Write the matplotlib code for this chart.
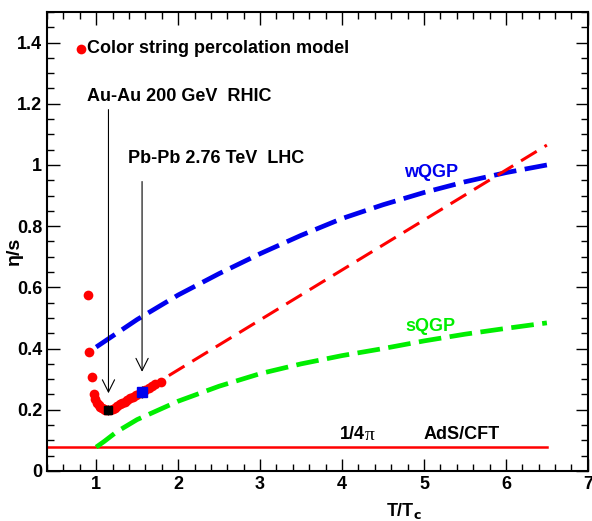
import matplotlib
matplotlib.use('Agg')
import matplotlib.pyplot as plt
from matplotlib.ticker import MultipleLocator

plt.rcParams['font.family'] = ['Liberation Sans', 'DejaVu Sans']
plt.rcParams['font.weight'] = 'bold'
plt.rcParams['axes.labelweight'] = 'bold'

# colour string percolation points (T/Tc, eta/s)
csp_t = [0.90, 0.918, 0.948, 0.976, 0.99, 1.008, 1.03, 1.05, 1.07, 1.09, 1.11, 1.13,
         1.17, 1.20, 1.23, 1.26, 1.29, 1.32, 1.35, 1.38, 1.41, 1.45, 1.49, 1.53,
         1.56, 1.60, 1.64, 1.68, 1.72, 1.79]
csp_eta = [0.574, 0.389, 0.307, 0.253, 0.235, 0.222, 0.214, 0.209, 0.205, 0.202, 0.200, 0.199,
           0.200, 0.203, 0.207, 0.211, 0.218, 0.222, 0.227, 0.232, 0.237, 0.242, 0.248, 0.254,
           0.259, 0.266, 0.272, 0.278, 0.284, 0.290]

# extrapolated colour string line
ext_t = [1.6, 6.5]
ext_eta = [0.265, 1.065]

# weakly coupled QGP
wqgp_t = [1.0, 1.5, 2.0, 2.5, 3.0, 3.5, 4.0, 4.5, 5.0, 5.5, 6.0, 6.5]
wqgp_eta = [0.405, 0.495, 0.575, 0.645, 0.71, 0.77, 0.825, 0.87, 0.91, 0.945, 0.975, 1.0]

# strongly coupled QGP
sqgp_t = [1.0, 1.1, 1.25, 1.5, 2.0, 2.5, 3.0, 3.5, 4.0, 4.5, 5.0, 5.5, 6.0, 6.5]
sqgp_eta = [0.078, 0.097, 0.128, 0.168, 0.228, 0.277, 0.318, 0.35, 0.377, 0.40, 0.425, 0.447,
            0.466, 0.484]

kss_bound = 0.0796  # 1/4pi

rhic_t, rhic_eta, rhic_err = 1.15, 0.199, 0.015
lhc_t, lhc_eta, lhc_err = 1.56, 0.259, 0.02

fig = plt.figure(figsize=(5.92, 5.21), dpi=100)
ax = fig.add_axes([0.0794, 0.096, 0.9136, 0.881])

ax.plot([0.4, 6.5], [kss_bound, kss_bound], color='#ff0000', lw=1.8)
ax.plot(wqgp_t, wqgp_eta, color='#0000ee', lw=3.4, dashes=(4.8, 1.8))
ax.plot(sqgp_t, sqgp_eta, color='#00ee00', lw=3.4, dashes=(4.8, 1.8))
ax.plot(ext_t, ext_eta, color='#ff0000', lw=2.2, dashes=(6, 3))
ax.plot(csp_t, csp_eta, 'o', color='#ff0000', ms=7, mec='none')

ax.errorbar([rhic_t], [rhic_eta], yerr=[rhic_err], fmt='s', color='black', ms=6, lw=1)
ax.errorbar([lhc_t], [lhc_eta], yerr=[lhc_err], fmt='s', color='#0000ee', ms=7,
            ecolor='black', lw=1)

# arrows
arrow_kw = dict(arrowstyle='->', color='black', lw=0.8, mutation_scale=22)
ax.annotate('', xy=(1.15, 0.245), xytext=(1.15, 1.19), arrowprops=arrow_kw)
ax.annotate('', xy=(1.56, 0.315), xytext=(1.56, 0.955), arrowprops=arrow_kw)

ax.plot([0.81], [1.38], 'o', color='#ff0000', ms=7, mec='none')
ax.text(0.89, 1.38, 'Color string percolation model', fontsize=13, va='center')
ax.text(0.89, 1.225, 'Au-Au 200 GeV  RHIC', fontsize=13, va='center')
ax.text(1.39, 1.02, 'Pb-Pb 2.76 TeV  LHC', fontsize=13, va='center')
ax.text(4.76, 0.975, 'wQGP', fontsize=13, va='center', color='#0000ee')
ax.text(4.77, 0.473, 'sQGP', fontsize=13, va='center', color='#00ee00')
ax.text(3.97, 0.12, '1/4', fontsize=13, va='center')
ax.text(4.28, 0.117, '\u03c0', fontsize=14, va='center', family='Liberation Serif',
        fontweight='normal')
ax.text(4.99, 0.12, 'AdS/CFT', fontsize=13, va='center')

ax.set_xlim(0.4, 7)
ax.set_ylim(0, 1.5)
ax.xaxis.set_major_locator(MultipleLocator(1))
ax.xaxis.set_minor_locator(MultipleLocator(0.2))
ax.yaxis.set_major_locator(MultipleLocator(0.2))
ax.yaxis.set_minor_locator(MultipleLocator(0.05))
ax.tick_params(which='both', direction='in', top=True, right=True, labelsize=13, width=1)
ax.tick_params(which='major', length=9)
ax.tick_params(which='minor', length=5)
ax.set_yticks(ax.get_yticks())
ax.set_yticklabels([f'{v:g}' for v in ax.get_yticks()])
ax.set_xticks(ax.get_xticks())
ax.set_xticklabels([f'{v:g}' for v in ax.get_xticks()])
ax.set_xlim(0.4, 7)
ax.set_ylim(0, 1.5)
for lab in ax.get_xticklabels() + ax.get_yticklabels():
    lab.set_fontweight('bold')
for s in ax.spines.values():
    s.set_linewidth(1.5)

ax.set_xlabel(r'T/T$_\mathbf{c}$', fontsize=13, fontweight='bold')
ax.xaxis.set_label_coords(0.66, -0.065)
ax.set_ylabel('\u03b7/s', fontsize=14, fontweight='bold')
ax.yaxis.set_label_coords(-0.045, 0.48)

fig.savefig('out.png', dpi=100)
